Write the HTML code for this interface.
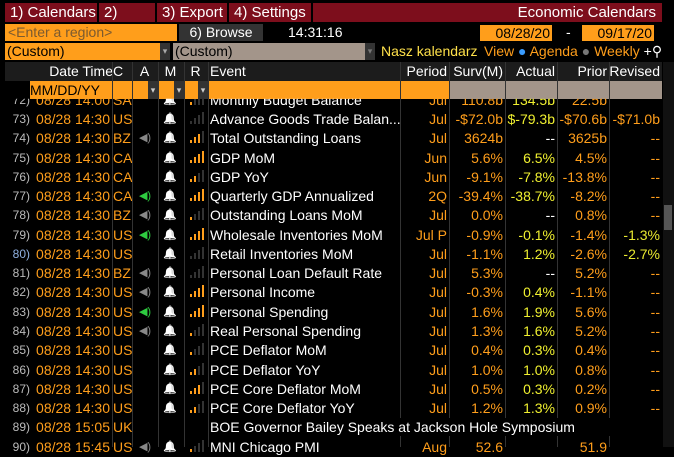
<!DOCTYPE html>
<html><head><meta charset="utf-8"><style>
*{margin:0;padding:0;box-sizing:border-box}
body{width:674px;height:447px;background:#000;overflow:hidden;position:relative;font-family:"Liberation Sans",sans-serif;font-size:14px;color:#ff9e1b}
.a{position:absolute;white-space:nowrap;line-height:18px}
.menu{position:absolute;top:3px;height:19px;background:#7d0e1c;color:#fff;font-size:15px;line-height:19px;padding-left:5px}
.row{position:absolute;left:0;width:662px;height:19px;overflow:hidden}
.vl{position:absolute;top:62px;bottom:0;width:1px;background:#333}
</style></head><body>
<div class="a" style="left:0;top:0;width:674px;height:25px;background:#000"></div>
<div class="menu" style="left:5px;width:92px">1) Calendars ▾</div>
<div class="menu" style="left:99px;width:56px">2) Alerts</div>
<div class="menu" style="left:157px;width:70px">3) Export ▾</div>
<div class="menu" style="left:229px;width:82px">4) Settings ▾</div>
<div class="menu" style="left:313px;width:349px;text-align:right;padding-right:6px">Economic Calendars</div>
<div class="a" style="left:5px;top:24px;width:172px;height:17px;background:#ff9e1b;color:#7a5a30;padding-left:3px;line-height:17px">&lt;Enter a region&gt;</div>
<div class="a" style="left:179px;top:24px;width:84px;height:17px;background:#333;color:#fff;text-align:center;line-height:17px">6) Browse</div>
<div class="a" style="left:288px;top:24px;color:#fff;line-height:17px">14:31:16</div>
<div class="a" style="left:480px;top:25px;width:72px;height:16px;background:#ff9e1b;color:#000;text-align:right;padding-right:2px;line-height:16px">08/28/20</div>
<div class="a" style="left:566px;top:24px;color:#fff;line-height:17px">-</div>
<div class="a" style="left:582px;top:25px;width:72px;height:16px;background:#ff9e1b;color:#000;text-align:right;padding-right:2px;line-height:16px">09/17/20</div>
<div class="a" style="left:5px;top:43px;width:155px;height:17px;background:#ff9e1b;color:#000;padding-left:2px;line-height:17px">(Custom)</div>
<div class="a" style="left:160px;top:43px;width:10px;height:17px;background:#333;color:#aaa;font-size:9px;line-height:17px;text-align:center">▾</div>
<div class="a" style="left:173px;top:43px;width:192px;height:17px;background:#a3958a;color:#000;padding-left:2px;line-height:17px">(Custom)</div>
<div class="a" style="left:365px;top:43px;width:10px;height:17px;background:#333;color:#777;font-size:9px;line-height:17px;text-align:center">▾</div>
<div class="a" style="left:381px;top:42px;color:#ffe14a">Nasz kalendarz</div>
<div class="a" style="left:484px;top:42px;color:#ff9e1b">View <span style="color:#3a9cff">●</span> Agenda <span style="color:#777">●</span> Weekly <span style="color:#fff">+⚲</span></div>
<div class="a" style="left:5px;top:62px;width:657px;height:19px;background:#1c1c1c"></div>
<div class="a" style="left:30px;top:81px;width:632px;height:18px;background:#ff9e1b"></div>
<div class="a" style="left:30px;top:81px;width:70px;height:18px;color:#000;text-align:right;line-height:18px">MM/DD/YY</div>
<div class="a" style="left:449px;top:81px;width:213px;height:18px;background:#a3958a"></div>
<div class="a" style="left:148px;top:81px;color:#ccc;font-size:9px;line-height:18px"><span style="background:#333;display:inline-block;width:10px;text-align:center">▾</span></div>
<div class="a" style="left:174px;top:81px;color:#ccc;font-size:9px;line-height:18px"><span style="background:#333;display:inline-block;width:10px;text-align:center">▾</span></div>
<div class="a" style="left:198px;top:81px;color:#ccc;font-size:9px;line-height:18px"><span style="background:#333;display:inline-block;width:10px;text-align:center">▾</span></div>
<div id="hdr"></div>
<div id="rows"></div>
<div class="a" style="left:663px;top:62px;width:11px;height:385px;background:#111"></div>
<div class="a" style="left:664px;top:205px;width:8px;height:25px;background:#555"></div>
<script>
const nums=[72,73,74,75,76,77,78,79,80,81,82,83,84,85,86,87,88,89,90];
const times=["14:00","14:30","14:30","14:30","14:30","14:30","14:30","14:30","14:30","14:30","14:30","14:30","14:30","14:30","14:30","14:30","14:30","15:05","15:45"];
const countries=["SA","US","BZ","CA","CA","CA","BZ","US","US","BZ","US","US","US","US","US","US","US","UK","US"];
const speakers=[0,0,1,0,0,2,1,2,0,1,1,2,1,0,0,0,0,-1,1];
const relevance=[1,0,3,4,2,4,1,4,0,0,4,4,1,1,2,3,2,-1,1];
const events=["Monthly Budget Balance","Advance Goods Trade Balan...","Total Outstanding Loans","GDP MoM","GDP YoY","Quarterly GDP Annualized","Outstanding Loans MoM","Wholesale Inventories MoM","Retail Inventories MoM","Personal Loan Default Rate","Personal Income","Personal Spending","Real Personal Spending","PCE Deflator MoM","PCE Deflator YoY","PCE Core Deflator MoM","PCE Core Deflator YoY","BOE Governor Bailey Speaks at Jackson Hole Symposium","MNI Chicago PMI"];
const periods=["Jul","Jul","Jul","Jun","Jun","2Q","Jul","Jul P","Jul","Jul","Jul","Jul","Jul","Jul","Jul","Jul","Jul","","Aug"];
const surveys=["110.8b","-$72.0b","3624b","5.6%","-9.1%","-39.4%","0.0%","-0.9%","-1.1%","5.3%","-0.3%","1.6%","1.3%","0.4%","1.0%","0.5%","1.2%","","52.6"];
const actuals=["134.5b","$-79.3b","--","6.5%","-7.8%","-38.7%","--","-0.1%","1.2%","--","0.4%","1.9%","1.6%","0.3%","1.0%","0.3%","1.3%","",""];
const priors=["22.5b","-$70.6b","3625b","4.5%","-13.8%","-8.2%","0.8%","-1.4%","-2.6%","5.2%","-1.1%","5.6%","5.2%","0.4%","0.8%","0.2%","0.9%","","51.9"];
const revised=["","-$71.0b","--","--","--","--","--","-1.3%","-2.7%","--","--","--","--","--","--","--","--","",""];
const heads=[["Date Time",5,110,"r"],["C",113,20,""],["A",133,25,"c"],["M",159,25,"c"],["R",185,23,"c"],["Event",210,190,""],["Period",400,49,"r"],["Surv(M)",449,56,"r"],["Actual",505,52,"r"],["Prior",557,52,"r"],["Revised",609,53,"r"]];
const hdr=document.getElementById('hdr');
heads.forEach(h=>{const d=document.createElement('div');d.className='a';


d.style.cssText=`left:${h[1]}px;top:62px;width:${h[2]}px;color:#fff;text-align:${h[3]=='r'?'right':h[3]=='c'?'center':'left'};padding-right:2px`;d.textContent=h[0];hdr.appendChild(d);});
[112,132,158,184,208,400,449,505,557,609].forEach(x=>{const v=document.createElement('div');v.className='vl';v.style.left=x+'px';


document.body.appendChild(v);});
const rows=document.getElementById('rows');
const y1=110,pitch=19.27;
function cell(p,l,w,txt,col,al){const d=document.createElement('div');d.className='a';d.style.cssText=`left:${l}px;top:0;width:${w}px;color:${col};text-align:${al||'right'};padding-right:2px`;d.textContent=txt;p.appendChild(d);return d;}
nums.forEach((n,i)=>{
 const r=document.createElement('div');r.className='row';r.style.top=(y1+(i-1)*pitch)+'px';
 if(i==0){r.style.clipPath='inset(8px 0 0 0)';}
 
 
 cell(r,0,32,n+')',n==80?'#8fb0e0':'#bbb').style.fontSize='12px';
 cell(r,30,82,'08/28 '+times[i],'#ff9e1b','right');
 cell(r,112,22,countries[i],'#ff9e1b','left').style.paddingLeft='1px';
 if(speakers[i]>0){const s=cell(r,136,20,'◀)',speakers[i]==2?'#2ecc40':'#888','center');s.style.fontSize='11px';}
 if(speakers[i]>=0&&relevance[i]>=0){cell(r,160,22,'🔔','#999','center').style.cssText+=';font-size:11px;filter:grayscale(1) brightness(1.3)';
  for(let k=0;k<4;k++){const b=document.createElement('div');b.className='a';b.style.cssText=`left:${190+k*4}px;top:${14-(k+1)*3}px;width:2px;height:${(k+1)*3}px;background:${k<relevance[i]?'#ff9e1b':'#333'}`;r.appendChild(b);}}
 const ev=cell(r,210,i==17?450:190,events[i],'#fff','left');if(i==17){ev.style.background='#000';ev.style.zIndex=2;}
 cell(r,400,49,periods[i],'#ff9e1b');
 cell(r,449,56,surveys[i],'#ff9e1b');
 cell(r,505,52,actuals[i],actuals[i]=='--'?'#fff':'#f0f030');
 cell(r,557,52,priors[i],'#ff9e1b');
 cell(r,609,53,revised[i],(revised[i]=='-1.3%'||revised[i]=='-2.7%')?'#e8e830':'#ff9e1b');
 rows.appendChild(r);
});
</script>
</body></html>
